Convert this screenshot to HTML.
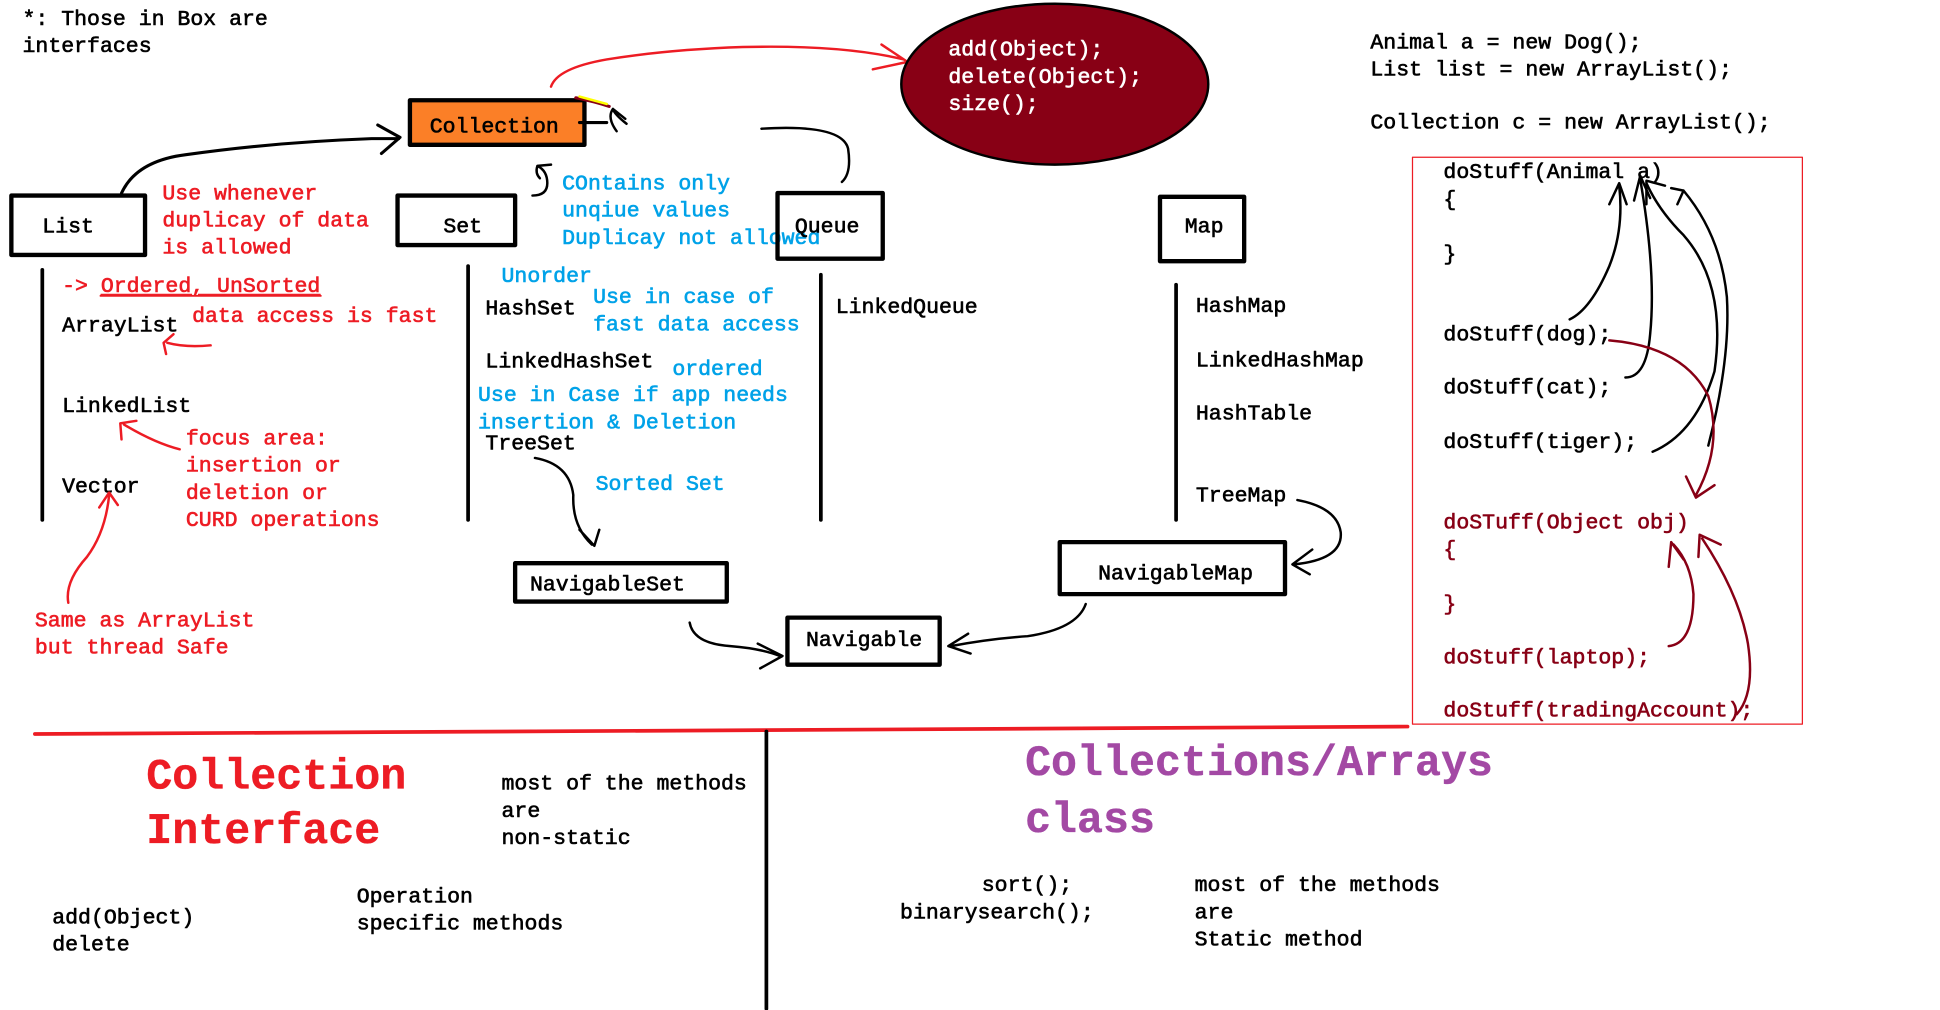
<!DOCTYPE html>
<html><head><meta charset="utf-8"><style>
html,body{margin:0;padding:0;background:#fff;width:1940px;height:1010px;overflow:hidden}
svg text{font-family:"Liberation Mono",monospace;font-size:17.4px;stroke-width:0.5px}
.k{fill:#000;stroke:#000}.r{fill:#ed1c24;stroke:#ed1c24}.b{fill:#00a2e8;stroke:#00a2e8}.d{fill:#880015;stroke:#880015}.w{fill:#fff;stroke:#fff}
</style></head><body>
<svg width="1940" height="1010" viewBox="0 0 1567 816" xmlns="http://www.w3.org/2000/svg">
<g fill="none" stroke-linecap="round" stroke-linejoin="round">
<text class="k" x="18" y="20">*: Those in Box are</text>
<text class="k" x="18" y="42">interfaces</text>

<rect x="331" y="81" width="141" height="36" fill="#fb7f27" stroke="#000" stroke-width="3.5"/>
<text class="k" x="347" y="107">Collection</text>
<path d="M468 99 H490" stroke="#000" stroke-width="2.5"/>
<path d="M465 79 Q480 82 492 86" stroke="#880015" stroke-width="2.5"/>
<path d="M468 78 L490 84" stroke="#ff0" stroke-width="2"/>
<path d="M506 100 Q496 92 495 88 Q490 95 498 106 M495 88 L505 96" stroke="#000" stroke-width="2"/>

<path d="M445 70 Q450 55 490 48 Q540 40 600 38 Q680 36 730 48 M712 36 L733 50 L705 56" stroke="#ed1c24" stroke-width="2"/>
<ellipse cx="852" cy="68" rx="124" ry="65" fill="#880015" stroke="#000" stroke-width="2"/>
<text class="w" x="766" y="45">add(Object);</text>
<text class="w" x="766" y="67">delete(Object);</text>
<text class="w" x="766" y="89">size();</text>

<text class="k" x="1107" y="39">Animal a = new Dog();</text>
<text class="k" x="1107" y="61">List list = new ArrayList();</text>
<text class="k" x="1107" y="104">Collection c = new ArrayList();</text>
<rect x="1141" y="127" width="315" height="458" stroke="#ed1c24" stroke-width="1"/>
<text class="k" x="1166" y="144">doStuff(Animal a)</text>
<text class="k" x="1166" y="166">{</text>
<text class="k" x="1166" y="210">}</text>
<text class="k" x="1166" y="275">doStuff(dog);</text>
<text class="k" x="1166" y="318">doStuff(cat);</text>
<text class="k" x="1166" y="362">doStuff(tiger);</text>
<text class="d" x="1166" y="427">doSTuff(Object obj)</text>
<text class="d" x="1166" y="449">{</text>
<text class="d" x="1166" y="493">}</text>
<text class="d" x="1166" y="536">doStuff(laptop);</text>
<text class="d" x="1166" y="579">doStuff(tradingAccount);</text>
<path d="M1268 258 Q1285 250 1300 215 Q1312 185 1308 150 M1300 165 L1308 148 L1314 165" stroke="#000" stroke-width="2"/>
<path d="M1313 305 Q1330 305 1333 270 Q1338 220 1325 145 M1320 162 L1325 142 L1333 160" stroke="#000" stroke-width="2"/>
<path d="M1335 365 Q1370 350 1385 300 Q1395 230 1360 190 Q1340 170 1330 148 M1330 165 L1330 146 L1345 150" stroke="#000" stroke-width="2"/>
<path d="M1350 152 L1360 154 L1355 165 M1360 154 Q1390 190 1395 240 Q1398 290 1380 360" stroke="#000" stroke-width="2"/>
<path d="M1300 275 Q1360 280 1380 320 Q1392 360 1370 400 M1362 385 L1370 402 L1385 392" stroke="#880015" stroke-width="2"/>
<path d="M1348 522 Q1368 520 1368 480 Q1366 455 1352 440 M1348 458 L1350 438 L1360 452" stroke="#880015" stroke-width="2"/>
<path d="M1403 577 Q1418 560 1412 520 Q1405 480 1375 435 M1372 450 L1373 432 L1390 440" stroke="#880015" stroke-width="2"/>

<rect x="9" y="158" width="108" height="48" stroke="#000" stroke-width="3.5"/>
<text class="k" x="34" y="188">List</text>
<path d="M98 156 Q110 130 150 125 Q220 115 300 112 H322 M305 101 L323 111 L308 124" stroke="#000" stroke-width="2.5"/>
<text class="r" x="131" y="161">Use whenever</text>
<text class="r" x="131" y="183">duplicay of data</text>
<text class="r" x="131" y="205">is allowed</text>
<path d="M34 218 V420" stroke="#000" stroke-width="3"/>
<text class="r" x="50" y="236">-&gt; <tspan text-decoration="underline">Ordered, UnSorted</tspan></text>
<path d="M81 239 H259" stroke="#ed1c24" stroke-width="1.5"/>
<text class="k" x="50" y="268">ArrayList</text>
<text class="r" x="155" y="260">data access is fast</text>
<path d="M170 279 Q150 281 135 277 M140 270 L132 277 L134 286" stroke="#ed1c24" stroke-width="2"/>
<text class="k" x="50" y="333">LinkedList</text>
<path d="M145 363 Q125 358 100 343 M98 355 L97 342 L110 340" stroke="#ed1c24" stroke-width="2"/>
<text class="r" x="150" y="359">focus area:</text>
<text class="r" x="150" y="381">insertion or</text>
<text class="r" x="150" y="403">deletion or</text>
<text class="r" x="150" y="425">CURD operations</text>
<text class="k" x="50" y="398">Vector</text>
<path d="M55 487 Q52 470 70 450 Q85 430 88 400 M80 410 L88 398 L95 408" stroke="#ed1c24" stroke-width="2"/>
<text class="r" x="28" y="506">Same as ArrayList</text>
<text class="r" x="28" y="528">but thread Safe</text>

<rect x="321" y="158" width="95" height="40" stroke="#000" stroke-width="3.5"/>
<text class="k" x="358" y="188">Set</text>
<path d="M430 158 Q442 158 442 148 Q442 138 434 134 L445 133 M434 134 Q432 140 436 144" stroke="#000" stroke-width="2"/>
<text class="b" x="454" y="153">COntains only</text>
<text class="b" x="454" y="175">unqiue values</text>
<text class="b" x="454" y="197">Duplicay not allowed</text>
<path d="M378 215 V420" stroke="#000" stroke-width="3"/>
<text class="b" x="405" y="228">Unorder</text>
<text class="k" x="392" y="254">HashSet</text>
<text class="b" x="479" y="245">Use in case of</text>
<text class="b" x="479" y="267">fast data access</text>
<text class="k" x="392" y="297">LinkedHashSet</text>
<text class="b" x="543" y="303">ordered</text>
<text class="b" x="386" y="324">Use in Case if app needs</text>
<text class="b" x="386" y="346">insertion &amp; Deletion</text>
<text class="k" x="392" y="363">TreeSet</text>
<text class="b" x="481" y="396">Sorted Set</text>
<path d="M432 370 Q460 375 463 400 Q462 425 478 440 M468 428 L480 441 L484 428" stroke="#000" stroke-width="2"/>
<rect x="416" y="455" width="171" height="31" stroke="#000" stroke-width="3.5"/>
<text class="k" x="428" y="477">NavigableSet</text>

<path d="M615 104 Q680 100 685 120 Q688 140 680 147" stroke="#000" stroke-width="2"/>
<rect x="628" y="156" width="85" height="53" stroke="#000" stroke-width="3.5"/>
<text class="k" x="642" y="188">Queue</text>
<path d="M663 222 V420" stroke="#000" stroke-width="3"/>
<text class="k" x="675" y="253">LinkedQueue</text>

<rect x="636" y="499" width="123" height="38" stroke="#000" stroke-width="3.5"/>
<text class="k" x="651" y="522">Navigable</text>
<path d="M557 503 Q560 520 590 522 Q615 524 630 530 M612 520 L632 530 L614 540" stroke="#000" stroke-width="2"/>
<path d="M877 488 Q870 508 830 514 Q800 516 768 522 M782 512 L766 522 L784 528" stroke="#000" stroke-width="2"/>

<rect x="937" y="159" width="68" height="52" stroke="#000" stroke-width="3.5"/>
<text class="k" x="957" y="188">Map</text>
<path d="M950 230 V420" stroke="#000" stroke-width="3"/>
<text class="k" x="966" y="252">HashMap</text>
<text class="k" x="966" y="296">LinkedHashMap</text>
<text class="k" x="966" y="339">HashTable</text>
<text class="k" x="966" y="405">TreeMap</text>
<path d="M1048 404 Q1080 410 1083 430 Q1085 452 1045 456 M1060 444 L1044 456 L1058 464" stroke="#000" stroke-width="2"/>
<rect x="856" y="438" width="182" height="42" stroke="#000" stroke-width="3.5"/>
<text class="k" x="887" y="468">NavigableMap</text>

<path d="M28 593 L600 590 L1137 587" stroke="#ed1c24" stroke-width="3"/>
<path d="M619 591 V815" stroke="#000" stroke-width="3"/>
<text class="r" x="118" y="637" style="font-size:35px;font-weight:bold;stroke-width:0.3px">Collection</text>
<text class="r" x="118" y="681" style="font-size:35px;font-weight:bold;stroke-width:0.3px">Interface</text>
<text class="k" x="405" y="638">most of the methods</text>
<text class="k" x="405" y="660">are</text>
<text class="k" x="405" y="682">non-static</text>
<text class="k" x="288" y="729">Operation</text>
<text class="k" x="288" y="751">specific methods</text>
<text class="k" x="42" y="746">add(Object)</text>
<text class="k" x="42" y="768">delete</text>
<text x="828" y="626" style="font-size:35px;font-weight:bold;fill:#a349a4;stroke:#a349a4;stroke-width:0.3px">Collections/Arrays</text>
<text x="828" y="672" style="font-size:35px;font-weight:bold;fill:#a349a4;stroke:#a349a4;stroke-width:0.3px">class</text>
<text class="k" x="793" y="720">sort();</text>
<text class="k" x="727" y="742">binarysearch();</text>
<text class="k" x="965" y="720">most of the methods</text>
<text class="k" x="965" y="742">are</text>
<text class="k" x="965" y="764">Static method</text>
</g>
</svg>
</body></html>
